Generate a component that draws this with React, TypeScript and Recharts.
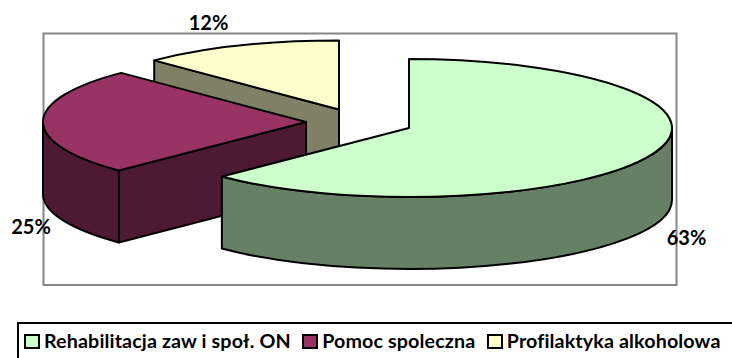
import { PieChart, Pie, Legend } from 'recharts'

const categories = ['Rehabilitacja zaw i społ. ON', 'Pomoc spoleczna', 'Profilaktyka alkoholowa']
const shares = [62.6, 25, 12.4]
const topColors = ['#CCFFCC', '#993366', '#FFFFCC']
const wallColors = ['#668066', '#4D1A33', '#808066']

// drawn back to front, so the rear slice comes first and angles run the other way
const rows = categories
  .map((name, i) => ({ name, value: shares[i], fill: topColors[i], wall: wallColors[i] }))
  .reverse()

const FONT = 'Lato, "Open Sans", sans-serif'
const CX = 360
const CY = 120
const SQUASH = 69 / 263
const DEPTH = 72

const explode: Record<string, [number, number]> = {
  [categories[0]]: [49, 8],
  [categories[1]]: [-54, 2],
  [categories[2]]: [-21, -10.5],
}

const labelAt: Record<string, [number, number]> = {
  [categories[0]]: [686.5, 237],
  [categories[1]]: [31, 226],
  [categories[2]]: [208.5, 22],
}

const rad = (a: number) => (a * Math.PI) / 180

function Slice3D(props: any) {
  const { startAngle, endAngle, outerRadius: r, payload, fill } = props
  const [dx, dy] = explode[payload.name]
  const cx = CX + dx
  const cy = CY + dy
  const rx = r
  const ry = r * SQUASH
  const px = (a: number) => cx + rx * Math.cos(rad(a))
  const py = (a: number) => cy - ry * Math.sin(rad(a))
  const common = { stroke: '#000', strokeWidth: 2, strokeLinejoin: 'round' as const }

  const walls: string[] = []
  // cut faces, only those turned to the viewer
  ;[
    [startAngle, Math.cos(rad(startAngle)) > 1e-6],
    [endAngle, Math.cos(rad(endAngle)) < -1e-6],
  ].forEach(([a, visible]: any) => {
    if (!visible) return
    walls.push(
      `M${cx},${cy} L${px(a)},${py(a)} L${px(a)},${py(a) + DEPTH} L${cx},${cy + DEPTH} Z`,
    )
  })

  // outer rim, the part on the front half of the ellipse
  const from = Math.max(startAngle, 180)
  const to = Math.min(endAngle, 360)
  if (to > from) {
    walls.push(
      `M${px(from)},${py(from)} A${rx},${ry} 0 0 0 ${px(to)},${py(to)} ` +
        `L${px(to)},${py(to) + DEPTH} A${rx},${ry} 0 0 1 ${px(from)},${py(from) + DEPTH} Z`,
    )
  }

  const large = endAngle - startAngle > 180 ? 1 : 0
  const top =
    `M${cx},${cy} L${px(startAngle)},${py(startAngle)} ` +
    `A${rx},${ry} 0 ${large} 0 ${px(endAngle)},${py(endAngle)} Z`

  return (
    <g>
      {walls.map((d, i) => (
        <path key={i} d={d} fill={payload.wall} {...common} />
      ))}
      <path d={top} fill={fill} {...common} />
    </g>
  )
}

function SliceLabel(props: any) {
  const { percent, name } = props
  const [x, y] = labelAt[name]
  return (
    <text
      x={x}
      y={y}
      textAnchor="middle"
      dominantBaseline="central"
      fontFamily={FONT}
      fontWeight={700}
      fontSize={20}
      fill="#000"
    >
      {`${Math.round(percent * 100)}%`}
    </text>
  )
}

function LegendBox({ payload }: any) {
  const items = categories.map((name) => (payload ?? []).find((p: any) => p.value === name)).filter(Boolean)
  return (
    <div
      style={{
        boxSizing: 'border-box',
        width: 740,
        height: 60,
        border: '2px solid #000',
        display: 'flex',
        alignItems: 'flex-start',
        paddingLeft: 5,
        paddingTop: 7,
        lineHeight: '20px',
        fontFamily: FONT,
        fontWeight: 700,
        fontSize: 19.7,
        letterSpacing: 0.12,
        color: '#000',
        whiteSpace: 'nowrap',
      }}
    >
      {items.map((it: any) => (
        <span key={it.value} style={{ display: 'flex', alignItems: 'center', marginRight: 11.5 }}>
          <span
            style={{
              display: 'inline-block',
              boxSizing: 'border-box',
              width: 16,
              height: 15,
              border: '2px solid #000',
              background: it.color,
              marginRight: 4,
            }}
          />
          {it.value}
        </span>
      ))}
    </div>
  )
}

export default function App() {
  return (
    <div
      style={{
        position: 'absolute',
        left: 0,
        top: 0,
        width: 732,
        height: 358,
        background: '#fff',
        overflow: 'hidden',
      }}
    >
      <PieChart width={732} height={358} margin={{ top: 0, right: 0, bottom: 0, left: 0 }}>
        <rect x={43.5} y={33.5} width={633} height={251.5} fill="none" stroke="#868686" strokeWidth={2} />
        <Pie
          data={rows}
          dataKey="value"
          nameKey="name"
          cx={CX}
          cy={CY}
          outerRadius={263}
          startAngle={90}
          endAngle={450}
          stroke="none"
          shape={Slice3D}
          label={SliceLabel}
          labelLine={false}
          isAnimationActive={false}
        />
        <Legend
          content={<LegendBox />}
          wrapperStyle={{ position: 'absolute', left: 17, top: 322, width: 740, height: 60, bottom: 'auto' }}
        />
      </PieChart>
    </div>
  )
}
